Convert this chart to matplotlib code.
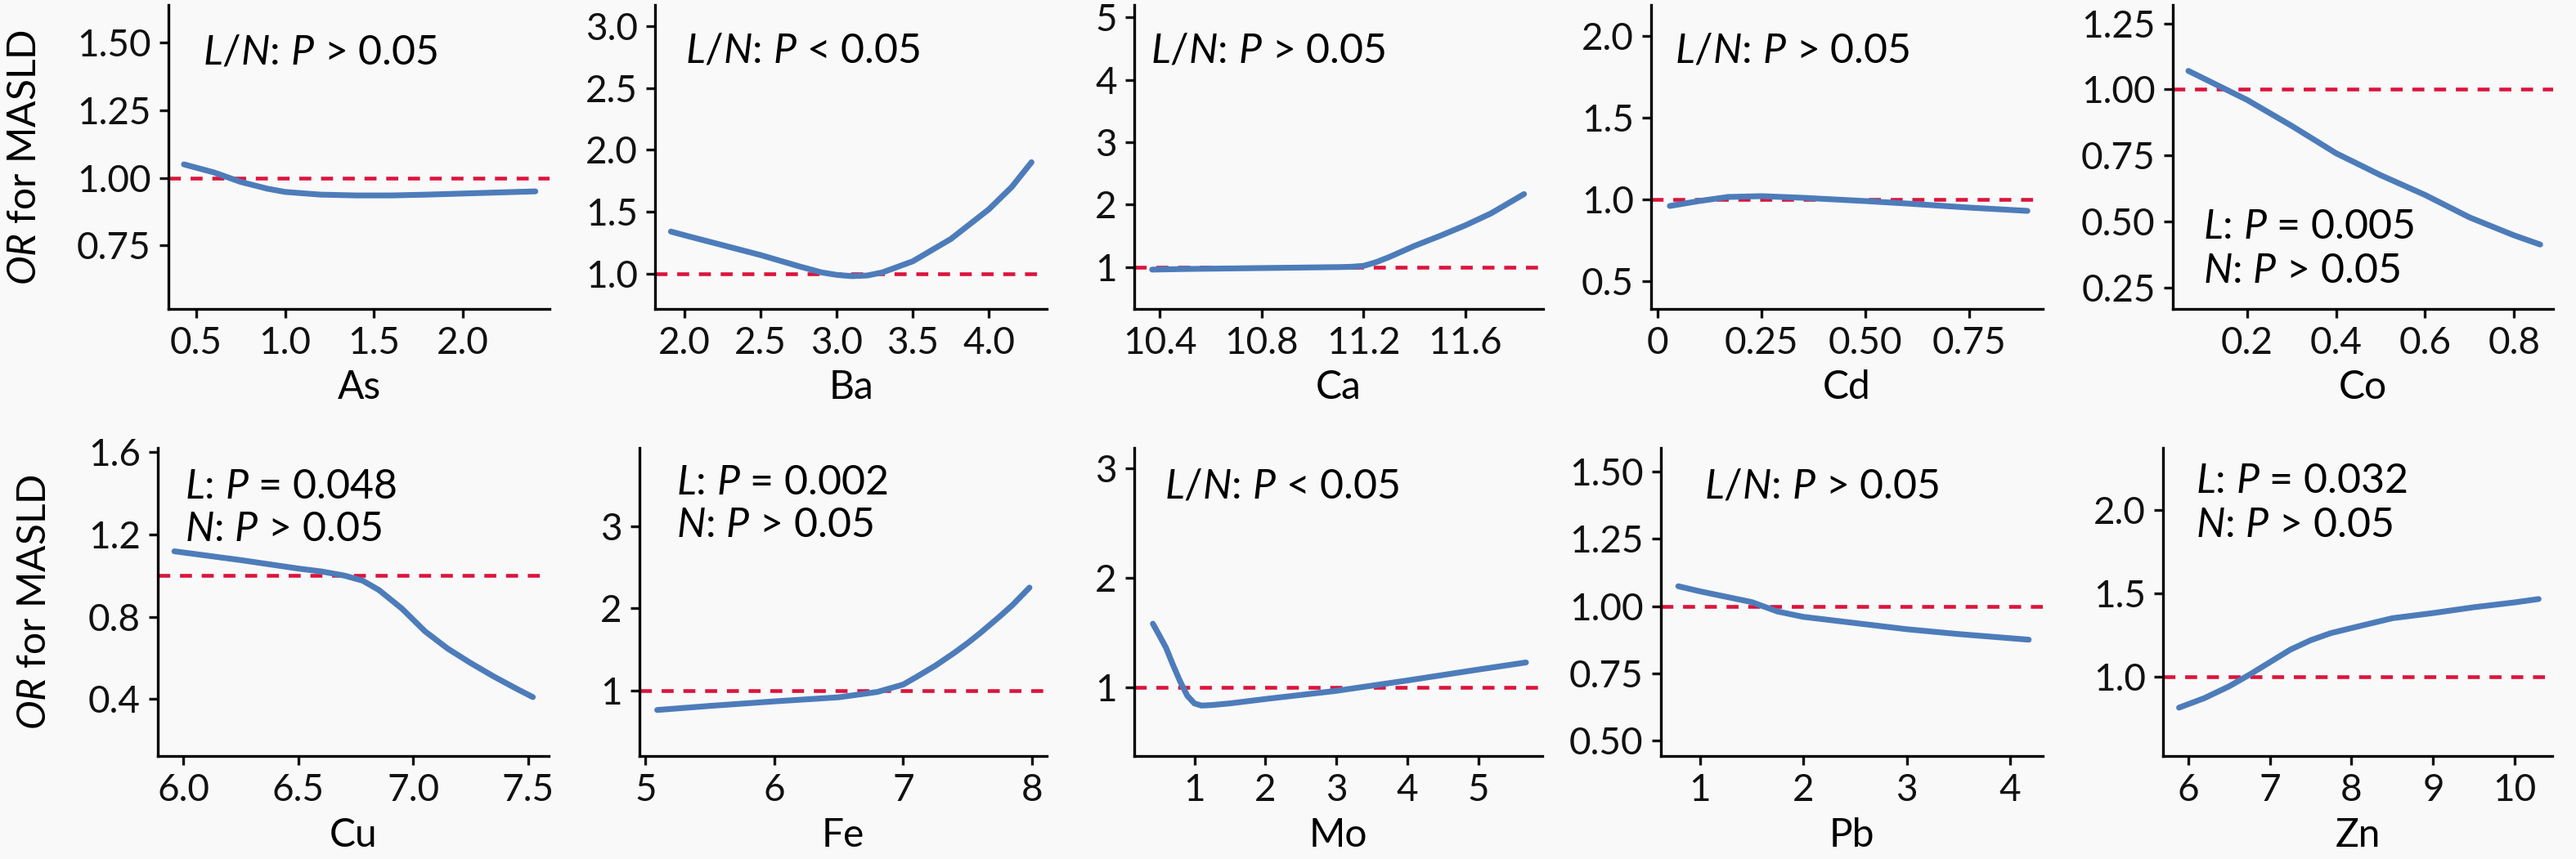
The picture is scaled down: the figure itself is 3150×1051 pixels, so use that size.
import matplotlib
matplotlib.use('Agg')
import matplotlib.pyplot as plt

# ---- data (OR curves per metal) ----
as_x = [0.43, 0.6, 0.75, 0.9, 1.0, 1.2, 1.4, 1.6, 1.8, 2.0, 2.2, 2.41]
as_y = [1.05, 1.02, 0.985, 0.96, 0.948, 0.938, 0.935, 0.935, 0.938, 0.942, 0.946, 0.95]

ba_x = [1.91, 2.0, 2.25, 2.5, 2.75, 2.9, 3.0, 3.1, 3.2, 3.3, 3.5, 3.75, 4.0, 4.15, 4.28]
ba_y = [1.34, 1.31, 1.23, 1.15, 1.06, 1.01, 0.99, 0.98, 0.985, 1.01, 1.10, 1.28, 1.52, 1.70, 1.90]

ca_x = [10.37, 10.5, 10.7, 10.9, 11.1, 11.15, 11.2, 11.25, 11.3, 11.4, 11.5, 11.6, 11.7, 11.83]
ca_y = [0.96, 0.97, 0.98, 0.99, 1.0, 1.005, 1.02, 1.08, 1.16, 1.34, 1.5, 1.67, 1.86, 2.17]

cd_x = [0.03, 0.1, 0.17, 0.25, 0.35, 0.5, 0.6, 0.75, 0.89]
cd_y = [0.96, 0.99, 1.015, 1.02, 1.01, 0.99, 0.975, 0.95, 0.93]

co_x = [0.068, 0.2, 0.3, 0.4, 0.5, 0.6, 0.7, 0.8, 0.859]
co_y = [1.07, 0.96, 0.862, 0.758, 0.675, 0.60, 0.515, 0.447, 0.412]

cu_x = [5.96, 6.25, 6.5, 6.6, 6.7, 6.78, 6.85, 6.95, 7.05, 7.15, 7.25, 7.35, 7.45, 7.52]
cu_y = [1.118, 1.075, 1.034, 1.02, 1.0, 0.975, 0.93, 0.84, 0.73, 0.645, 0.575, 0.51, 0.45, 0.41]

fe_x = [5.09, 5.5, 6.0, 6.5, 6.8, 7.0, 7.1, 7.25, 7.4, 7.5, 7.6, 7.75, 7.85, 7.98]
fe_y = [0.76, 0.81, 0.865, 0.915, 0.98, 1.07, 1.16, 1.30, 1.46, 1.575, 1.70, 1.90, 2.04, 2.25]

mo_x = [0.415, 0.5, 0.6, 0.7, 0.8, 0.9, 1.0, 1.1, 1.25, 1.5, 2.0, 3.0, 4.0, 5.0, 5.67]
mo_y = [1.58, 1.48, 1.36, 1.20, 1.05, 0.92, 0.85, 0.83, 0.835, 0.85, 0.89, 0.965, 1.06, 1.16, 1.225]

pb_x = [0.79, 1.0, 1.25, 1.5, 1.75, 2.0, 2.5, 3.0, 3.5, 4.18]
pb_y = [1.074, 1.055, 1.035, 1.015, 0.98, 0.96, 0.937, 0.914, 0.896, 0.875]

zn_x = [5.89, 6.2, 6.5, 6.75, 7.0, 7.25, 7.5, 7.75, 8.0, 8.5, 9.0, 9.5, 10.0, 10.29]
zn_y = [0.813, 0.87, 0.94, 1.01, 1.085, 1.16, 1.217, 1.26, 1.29, 1.349, 1.38, 1.415, 1.444, 1.464]

metals = ['As', 'Ba', 'Ca', 'Cd', 'Co', 'Cu', 'Fe', 'Mo', 'Pb', 'Zn']
curves = [(as_x, as_y), (ba_x, ba_y), (ca_x, ca_y), (cd_x, cd_y), (co_x, co_y),
          (cu_x, cu_y), (fe_x, fe_y), (mo_x, mo_y), (pb_x, pb_y), (zn_x, zn_y)]

xticks = [
    ([0.5, 1.0, 1.5, 2.0], ['0.5', '1.0', '1.5', '2.0']),
    ([2.0, 2.5, 3.0, 3.5, 4.0], ['2.0', '2.5', '3.0', '3.5', '4.0']),
    ([10.4, 10.8, 11.2, 11.6], ['10.4', '10.8', '11.2', '11.6']),
    ([0, 0.25, 0.5, 0.75], ['0', '0.25', '0.50', '0.75']),
    ([0.2, 0.4, 0.6, 0.8], ['0.2', '0.4', '0.6', '0.8']),
    ([6.0, 6.5, 7.0, 7.5], ['6.0', '6.5', '7.0', '7.5']),
    ([5, 6, 7, 8], ['5', '6', '7', '8']),
    ([1, 2, 3, 4, 5], ['1', '2', '3', '4', '5']),
    ([1, 2, 3, 4], ['1', '2', '3', '4']),
    ([6, 7, 8, 9, 10], ['6', '7', '8', '9', '10']),
]
yticks = [
    ([0.75, 1.0, 1.25, 1.5], ['0.75', '1.00', '1.25', '1.50']),
    ([1.0, 1.5, 2.0, 2.5, 3.0], ['1.0', '1.5', '2.0', '2.5', '3.0']),
    ([1, 2, 3, 4, 5], ['1', '2', '3', '4', '5']),
    ([0.5, 1.0, 1.5, 2.0], ['0.5', '1.0', '1.5', '2.0']),
    ([0.25, 0.5, 0.75, 1.0, 1.25], ['0.25', '0.50', '0.75', '1.00', '1.25']),
    ([0.4, 0.8, 1.2, 1.6], ['0.4', '0.8', '1.2', '1.6']),
    ([1, 2, 3], ['1', '2', '3']),
    ([1, 2, 3], ['1', '2', '3']),
    ([0.5, 0.75, 1.0, 1.25, 1.5], ['0.50', '0.75', '1.00', '1.25', '1.50']),
    ([1.0, 1.5, 2.0], ['1.0', '1.5', '2.0']),
]
xlims = [(0.343, 2.49), (1.806, 4.38), (10.30, 11.905), (-0.015, 0.927), (0.033, 0.888),
         (5.888, 7.589), (4.953, 8.114), (0.153, 5.9), (0.622, 4.316), (5.694, 10.457)]
ylims = [(0.515, 1.64), (0.715, 3.17), (0.33, 5.2), (0.33, 2.19), (0.168, 1.32),
         (0.124, 1.62), (0.2, 3.95), (0.368, 3.19), (0.442, 1.589), (0.523, 2.37)]

p_texts = [
    [r'$\mathit{L/N}$: $\mathit{P}$ > 0.05'],
    [r'$\mathit{L/N}$: $\mathit{P}$ < 0.05'],
    [r'$\mathit{L/N}$: $\mathit{P}$ > 0.05'],
    [r'$\mathit{L/N}$: $\mathit{P}$ > 0.05'],
    [r'$\mathit{L}$: $\mathit{P}$ = 0.005', r'$\mathit{N}$: $\mathit{P}$ > 0.05'],
    [r'$\mathit{L}$: $\mathit{P}$ = 0.048', r'$\mathit{N}$: $\mathit{P}$ > 0.05'],
    [r'$\mathit{L}$: $\mathit{P}$ = 0.002', r'$\mathit{N}$: $\mathit{P}$ > 0.05'],
    [r'$\mathit{L/N}$: $\mathit{P}$ < 0.05'],
    [r'$\mathit{L/N}$: $\mathit{P}$ > 0.05'],
    [r'$\mathit{L}$: $\mathit{P}$ = 0.032', r'$\mathit{N}$: $\mathit{P}$ > 0.05'],
]

# ---- layout (pixels in a 3150 x 1051 canvas) ----
W, H = 3150, 1051
lefts = [206, 801, 1387, 2019, 2657, 193, 782, 1387, 2031, 2645]
rights = [672, 1280, 1887, 2498, 3122, 671, 1280, 1886, 2498, 3121]
row_top = [6, 548]
row_bot = [378, 925]
text_pos = [(0.09, [0.806]), (0.077, [0.81]), (0.04, [0.81]), (0.06, [0.81]),
            (0.08, [0.231, 0.085]), (0.068, [0.836, 0.698]), (0.09, [0.85, 0.711]),
            (0.074, [0.836]), (0.113, [0.836]), (0.085, [0.854, 0.711])]

FONT = 'Lato'
plt.rcParams['font.family'] = [FONT, 'DejaVu Sans']
plt.rcParams['mathtext.fontset'] = 'custom'
plt.rcParams['mathtext.rm'] = FONT
plt.rcParams['mathtext.it'] = FONT + ':italic'
bg = '#f9f9f9'
line_c = '#4d7cba'
ref_c = '#dc143c'

fig = plt.figure(figsize=(W / 300, H / 300), dpi=300, facecolor=bg)

for i, name in enumerate(metals):
    r = i // 5
    l, rt = lefts[i], rights[i]
    ax = fig.add_axes([l / W, 1 - row_bot[r] / H, (rt - l) / W, (row_bot[r] - row_top[r]) / H])
    ax.set_facecolor(bg)
    ax.axhline(1.0, color=ref_c, lw=1.1, dashes=(3.2, 2.6), zorder=1)
    cx, cy = curves[i]
    ax.plot(cx, cy, color=line_c, lw=1.7, solid_capstyle='round', solid_joinstyle='round', zorder=2)
    ax.set_xlim(*xlims[i])
    ax.set_ylim(*ylims[i])
    ax.set_xticks(xticks[i][0], xticks[i][1])
    ax.set_yticks(yticks[i][0], yticks[i][1])
    for s in ['top', 'right']:
        ax.spines[s].set_visible(False)
    for s in ['left', 'bottom']:
        ax.spines[s].set_linewidth(0.8)
    ax.tick_params(labelsize=11, length=2.6, width=0.8, pad=2.5, colors='#111111')
    ax.set_xlabel(name, fontsize=11.5)
    ax.xaxis.set_label_coords(0.5, -0.2)
    if i % 5 == 0:
        ax.set_ylabel(r'$\mathit{OR}$ for MASLD', fontsize=11.5)
        ax.yaxis.set_label_coords(-0.33 if r == 0 else -0.27, 0.5)
    tx, tys = text_pos[i]
    for t, ty in zip(p_texts[i], tys):
        ax.text(tx, ty, t, transform=ax.transAxes, fontsize=12, va='baseline', ha='left')

fig.savefig('out.png', dpi=300, facecolor=bg)
